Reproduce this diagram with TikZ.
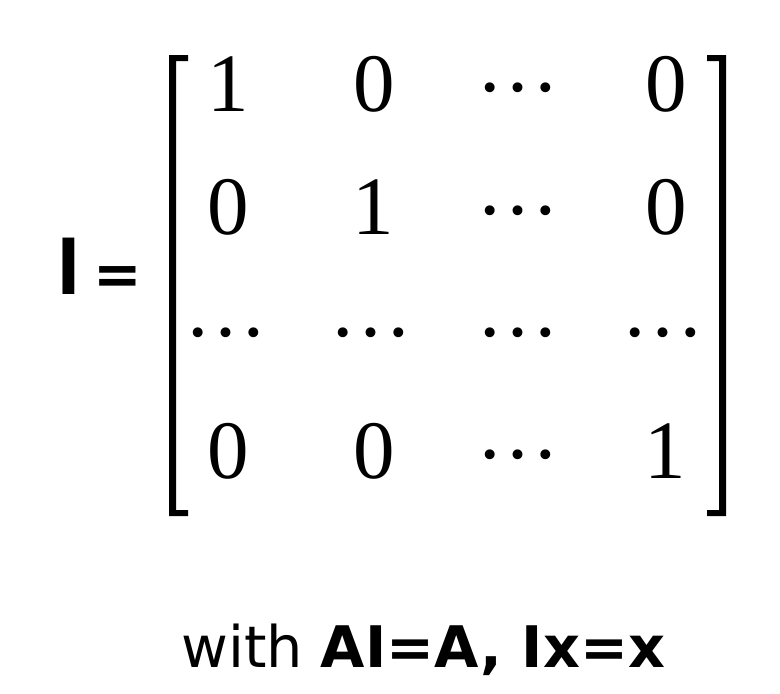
\documentclass[tikz,border=0pt]{standalone}
\usepackage{fontspec}
\setmainfont{Liberation Serif}
\newfontfamily\lsans{Liberation Sans}
\newfontfamily\dejavu{DejaVu Sans}
\begin{document}
\begin{tikzpicture}[x=1pt,y=-1pt,
  entry/.style={inner sep=0pt,anchor=base,font=\fontsize{83}{83}\selectfont},
  lhs/.style={inner sep=0pt,anchor=base,font=\lsans\bfseries\fontsize{82}{82}\selectfont},
  eqsign/.style={inner sep=0pt,anchor=base,font=\dejavu\bfseries\fontsize{58}{58}\selectfont},
  caption/.style={inner sep=0pt,anchor=base west,font=\dejavu\fontsize{57.3}{57.3}\selectfont}]
\useasboundingbox (0,0) rectangle (780,694);
\fill[white] (0,0) rectangle (780,694);
% left-hand side
\node[lhs] (I) at (69,294) {I};
\node[eqsign] (eq) at (118,294) {=};
% brackets
\fill[black] (169,55) -- (188,55) -- (188,61) -- (176,61) -- (176,510) -- (188,510) -- (188,516) -- (169,516) -- cycle;
\fill[black] (726,55) -- (707,55) -- (707,61) -- (719,61) -- (719,510) -- (707,510) -- (707,516) -- (726,516) -- cycle;
% row 1
\node[entry] (a11) at (228,111) {1};
\node[entry] (a12) at (374,111) {0};
\node[entry] (a13) at (518,91) {…};
\node[entry] (a14) at (666,111) {0};
% row 2
\node[entry] (a21) at (228,234) {0};
\node[entry] (a22) at (373,234) {1};
\node[entry] (a23) at (518,214) {…};
\node[entry] (a24) at (666,234) {0};
% row 3
\node[entry] (a31) at (226,336) {…};
\node[entry] (a32) at (371,336) {…};
\node[entry] (a33) at (518,336) {…};
\node[entry] (a34) at (663,336) {…};
% row 4
\node[entry] (a41) at (228,478) {0};
\node[entry] (a42) at (374,478) {0};
\node[entry] (a43) at (518,458) {…};
\node[entry] (a44) at (665,478) {1};
% caption
\node[caption] (cap) at (181,667) {with \textbf{AI=A, Ix=x}};
\end{tikzpicture}
\end{document}
